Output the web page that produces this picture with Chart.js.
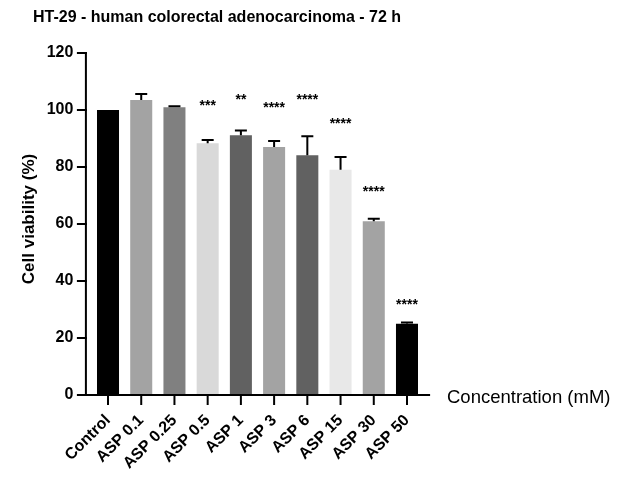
<!DOCTYPE html>
<html><head><meta charset="utf-8">
<script src="https://cdn.jsdelivr.net/npm/chart.js@4"></script>
<style>html,body{margin:0;padding:0;background:#fff}#wrap{width:622px;height:480px}</style>
</head><body><div id="wrap"><canvas id="c" width="622" height="480"></canvas></div>
<script>
const categories = ['Control','ASP 0.1','ASP 0.25','ASP 0.5','ASP 1','ASP 3','ASP 6','ASP 15','ASP 30','ASP 50'];
const viability = [100, 103.5, 101, 88.3, 91.1, 87, 84.1, 79, 61, 25];
const errorUp = [0, 2.1, 0.3, 1.2, 1.7, 2.1, 6.7, 4.5, 0.8, 0.4];
const significance = ['', '', '', '***', '**', '****', '****', '****', '****', '****'];
const sigLevel = [0, 0, 0, 102.3, 104.5, 101.6, 104.5, 96.1, 72.2, 32.6];
const barColors = ['#000000','#a3a3a3','#808080','#d9d9d9','#616161','#a3a3a3','#616161','#e8e8e8','#a3a3a3','#000000'];
const yTicks = [0, 20, 40, 60, 80, 100, 120];

const FONT = '"Liberation Sans", Arial, sans-serif';

const overlay = {
  id: 'overlay',
  afterDatasetsDraw(chart) {
    const ctx = chart.ctx, x = chart.scales.x, y = chart.scales.y;
    const ca = chart.chartArea;
    ctx.save();
    ctx.strokeStyle = '#000';
    ctx.fillStyle = '#000';
    // error bars
    ctx.lineWidth = 2;
    viability.forEach((v, i) => {
      if (!errorUp[i]) return;
      const px = x.getPixelForValue(i);
      const top = y.getPixelForValue(v + errorUp[i]);
      const base = y.getPixelForValue(v);
      ctx.beginPath();
      ctx.moveTo(px, base); ctx.lineTo(px, top);
      ctx.moveTo(px - 6, top); ctx.lineTo(px + 6, top);
      ctx.stroke();
    });
    // axes
    const axX = ca.left - 5.5, axR = ca.right + 6.5;
    const y0 = y.getPixelForValue(0), yTop = y.getPixelForValue(120);
    ctx.lineWidth = 2;
    ctx.beginPath();
    ctx.moveTo(axX, yTop - 1); ctx.lineTo(axX, y0);
    ctx.lineTo(axR, y0);
    ctx.stroke();
    yTicks.forEach(t => {
      const py = y.getPixelForValue(t);
      ctx.beginPath(); ctx.moveTo(axX - 9, py); ctx.lineTo(axX + 1, py); ctx.stroke();
    });
    categories.forEach((c, i) => {
      const px = x.getPixelForValue(i);
      ctx.beginPath(); ctx.moveTo(px, y0); ctx.lineTo(px, y0 + 10); ctx.stroke();
    });
    // significance stars
    ctx.font = 'bold 14px ' + FONT;
    ctx.textAlign = 'center';
    ctx.textBaseline = 'middle';
    significance.forEach((s, i) => {
      if (!s) return;
      ctx.fillText(s, x.getPixelForValue(i), y.getPixelForValue(sigLevel[i]) + 3);
    });
    // titles
    ctx.textAlign = 'left';
    ctx.font = 'bold 16px ' + FONT;
    ctx.fillText('HT-29 - human colorectal adenocarcinoma - 72 h', 33, 18);
    ctx.font = '18.5px ' + FONT;
    ctx.fillText('Concentration (mM)', 447, y0 + 3);
    ctx.save();
    ctx.translate(29, 219);
    ctx.rotate(-Math.PI / 2);
    ctx.textAlign = 'center';
    ctx.font = 'bold 17px ' + FONT;
    ctx.fillText('Cell viability (%)', 0, 0);
    ctx.restore();
    ctx.restore();
  }
};

new Chart(document.getElementById('c'), {
  type: 'bar',
  data: {
    labels: categories,
    datasets: [{
      data: viability,
      backgroundColor: barColors,
      borderWidth: 0,
      categoryPercentage: 1,
      barPercentage: 0.663
    }]
  },
  options: {
    responsive: false,
    animation: false,
    devicePixelRatio: 1,
    layout: { padding: { left: 0, right: 198.4, top: 53, bottom: 0 } },
    plugins: { legend: { display: false }, tooltip: { enabled: false }, title: { display: false } },
    scales: {
      x: {
        offset: true,
        grid: { display: false, drawTicks: false },
        border: { display: false },
        ticks: {
          autoSkip: false, maxRotation: 45, minRotation: 45,
          color: '#000', padding: 16,
          font: { family: FONT, size: 16, weight: 'bold' }
        },
        afterFit(s) { s.height = 85; }
      },
      y: {
        min: 0, max: 120,
        grid: { display: false, drawTicks: false },
        border: { display: false },
        ticks: {
          stepSize: 20, color: '#000', padding: 18,
          font: { family: FONT, size: 16, weight: 'bold' }
        },
        afterFit(s) { s.width = 91.4; }
      }
    }
  },
  plugins: [overlay]
});
</script>
</body></html>
